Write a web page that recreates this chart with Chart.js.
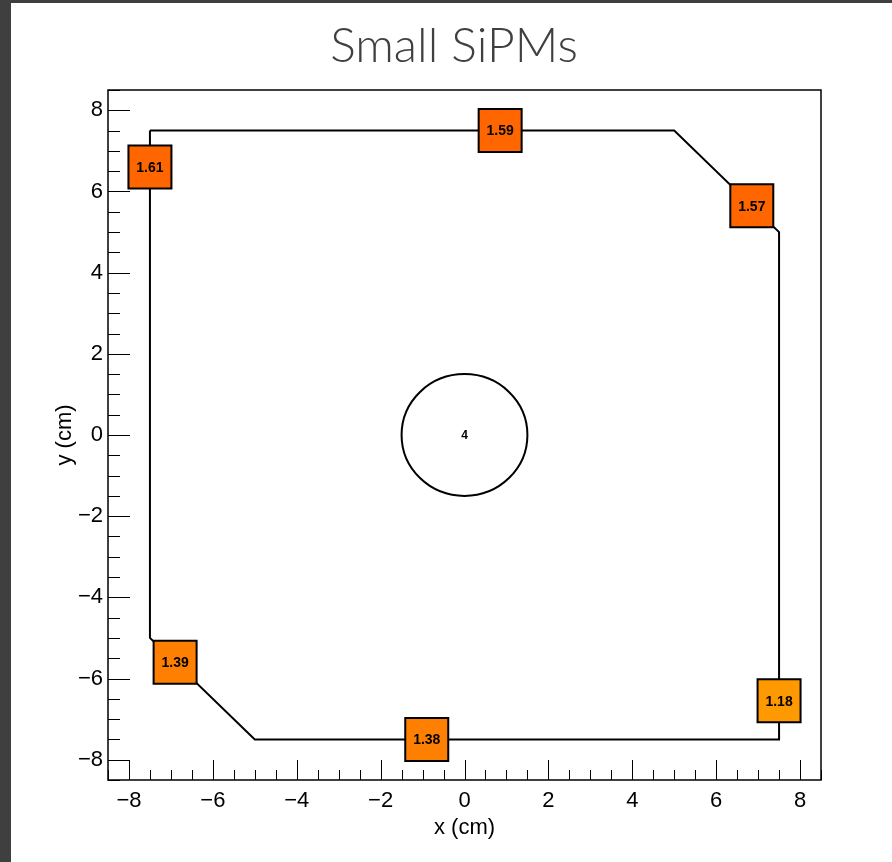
<!DOCTYPE html>
<html>
<head>
<meta charset="utf-8">
<title>Small SiPMs</title>
<script src="https://cdn.jsdelivr.net/npm/chart.js@4/dist/chart.umd.min.js"></script>
<style>
  html, body { margin: 0; padding: 0; }
  body { width: 892px; height: 862px; background: #3f3f3f; position: relative; overflow: hidden; }
  #sheet { position: absolute; left: 11px; top: 3px; right: 0; bottom: 0; background: #ffffff; }
  #plot { position: absolute; left: 0; top: 0; }
</style>
</head>
<body>
<div id="sheet"></div>
<canvas id="plot" width="892" height="862"></canvas>
<script>
// Outline of the tile (cm), traced corner by corner
const outlineX = [-7.5, 5.0, 7.5, 7.5, -5.0, -7.5, -7.5];
const outlineY = [ 7.5, 7.5, 5.0, -7.5, -7.5, -5.0, 7.5];

// SiPM positions (cm) and their readings
const sipmX = [-7.5, 0.85, 6.85, -6.9, -0.9, 7.5];
const sipmY = [ 6.6, 7.5, 5.65, -5.6, -7.5, -6.55];
const sipmValue = [1.61, 1.59, 1.57, 1.39, 1.38, 1.18];
const sipmColor = ['#ff6600', '#ff6600', '#ff6600', '#ff8000', '#ff8000', '#ff9900'];

// Central hole
const holeX = [0];
const holeY = [0];
const holeRadius = [1.5];
const holeLabel = ['4'];

// Axes
const axisMin = -8.5;
const axisMax = 8.5;
const tickValues = [-8, -6, -4, -2, 0, 2, 4, 6, 8];
const minorStep = 0.5;

const fmtTick = v => (v < 0 ? '\u2212' + Math.abs(v) : String(v));

const frameAndTicks = {
  id: 'frameAndTicks',
  afterDraw(chart) {
    const { ctx, chartArea: a, scales: { x, y } } = chart;
    ctx.save();
    ctx.strokeStyle = '#000';
    ctx.lineWidth = 1;
    // minor + major ticks pointing into the frame
    for (let v = axisMin; v <= axisMax + 1e-9; v += minorStep) {
      const major = tickValues.some(t => Math.abs(t - v) < 1e-9);
      const px = Math.round(x.getPixelForValue(v)) + 0.5;
      const py = Math.round(y.getPixelForValue(v)) + 0.5;
      const lx = major ? 20 : 10;
      const ly = major ? 22 : 12;
      ctx.beginPath();
      ctx.moveTo(px, a.bottom);
      ctx.lineTo(px, a.bottom - lx);
      ctx.moveTo(a.left, py);
      ctx.lineTo(a.left + ly, py);
      ctx.stroke();
    }
    ctx.lineWidth = 1.5;
    ctx.strokeRect(a.left, a.top, a.right - a.left, a.bottom - a.top);
    ctx.restore();
  }
};

const holePlugin = {
  id: 'hole',
  afterDatasetsDraw(chart) {
    const { ctx, scales: { x, y } } = chart;
    ctx.save();
    for (let i = 0; i < holeX.length; i++) {
      const cx = x.getPixelForValue(holeX[i]);
      const cy = y.getPixelForValue(holeY[i]);
      const rx = Math.abs(x.getPixelForValue(holeX[i] + holeRadius[i]) - cx);
      const ry = Math.abs(y.getPixelForValue(holeY[i] + holeRadius[i]) - cy);
      ctx.beginPath();
      ctx.ellipse(cx, cy, rx, ry, 0, 0, Math.PI * 2);
      ctx.lineWidth = 2;
      ctx.strokeStyle = '#000';
      ctx.stroke();
      ctx.fillStyle = '#000';
      ctx.font = 'bold 12px "Liberation Sans", Arial, sans-serif';
      ctx.textAlign = 'center';
      ctx.textBaseline = 'middle';
      ctx.fillText(holeLabel[i], cx, cy + 1);
    }
    ctx.restore();
  }
};

const sipmLabels = {
  id: 'sipmLabels',
  afterDatasetsDraw(chart) {
    const { ctx } = chart;
    const meta = chart.getDatasetMeta(0);
    ctx.save();
    ctx.fillStyle = '#000';
    ctx.font = 'bold 14px "Liberation Sans", Arial, sans-serif';
    ctx.textAlign = 'center';
    ctx.textBaseline = 'middle';
    meta.data.forEach((pt, i) => {
      ctx.fillText(sipmValue[i].toFixed(2), pt.x, pt.y + 1);
    });
    ctx.restore();
  }
};

const titlePlugin = {
  id: 'pageTitle',
  afterDraw(chart) {
    const { ctx } = chart;
    ctx.save();
    ctx.fillStyle = '#404040';
    ctx.font = '300 48px Lato, "Open Sans", sans-serif';
    ctx.textAlign = 'center';
    ctx.textBaseline = 'alphabetic';
    ctx.fillText('Small SiPMs', 454, 62);
    ctx.restore();
  }
};

new Chart(document.getElementById('plot'), {
  type: 'scatter',
  data: {
    datasets: [
      {
        label: 'SiPM',
        data: sipmX.map((v, i) => ({ x: v, y: sipmY[i] })),
        pointStyle: 'rect',
        pointRadius: 30.4,
        pointHoverRadius: 30.4,
        pointBackgroundColor: sipmColor,
        pointBorderColor: '#000',
        pointBorderWidth: 2,
        showLine: false
      },
      {
        label: 'outline',
        data: outlineX.map((v, i) => ({ x: v, y: outlineY[i] })),
        showLine: true,
        borderColor: '#000',
        borderWidth: 2,
        pointRadius: 0,
        fill: false,
        tension: 0
      }
    ]
  },
  options: {
    responsive: false,
    animation: false,
    devicePixelRatio: 1,
    layout: { padding: { top: 90, right: 71, left: 0, bottom: 0 } },
    plugins: {
      legend: { display: false },
      tooltip: { enabled: false },
      title: { display: false }
    },
    events: [],
    scales: {
      x: {
        type: 'linear',
        min: axisMin,
        max: axisMax,
        grid: { display: false, drawTicks: false },
        border: { display: false },
        afterBuildTicks: s => { s.ticks = tickValues.map(v => ({ value: v })); },
        afterFit: s => { s.height = 82; },
        ticks: {
          padding: 8,
          color: '#000',
          maxRotation: 0,
          autoSkip: false,
          font: { family: '"Liberation Sans", Arial, sans-serif', size: 22 },
          callback: fmtTick
        },
        title: {
          display: true,
          text: 'x (cm)',
          color: '#000',
          font: { family: '"Liberation Sans", Arial, sans-serif', size: 22 },
          padding: { top: 0, bottom: 21 }
        }
      },
      y: {
        type: 'linear',
        min: axisMin,
        max: axisMax,
        grid: { display: false, drawTicks: false },
        border: { display: false },
        afterBuildTicks: s => { s.ticks = tickValues.map(v => ({ value: v })); },
        afterFit: s => { s.width = 108; },
        ticks: {
          padding: 5,
          color: '#000',
          autoSkip: false,
          font: { family: '"Liberation Sans", Arial, sans-serif', size: 22 },
          callback: fmtTick
        },
        title: {
          display: true,
          text: 'y (cm)',
          color: '#000',
          font: { family: '"Liberation Sans", Arial, sans-serif', size: 22 },
          padding: { top: 52, bottom: 0 }
        }
      }
    }
  },
  plugins: [frameAndTicks, holePlugin, sipmLabels, titlePlugin]
});
</script>
</body>
</html>
